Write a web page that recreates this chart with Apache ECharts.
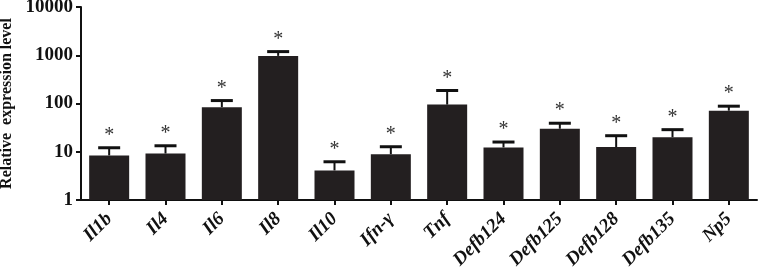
<!DOCTYPE html>
<html>
<head>
<meta charset="utf-8">
<script src="https://cdn.jsdelivr.net/npm/echarts@6/dist/echarts.min.js"></script>
<style>
  html, body { margin: 0; padding: 0; background: #fff; }
  #main { width: 761px; height: 272px; }
</style>
</head>
<body>
<div id="main"></div>
<script>
var genes = ['Il1b', 'Il4', 'Il6', 'Il8', 'Il10', 'Ifn-γ', 'Tnf', 'Defb124', 'Defb125', 'Defb128', 'Defb135', 'Np5'];
var means = [8.4, 9.2, 84, 970, 4.1, 8.9, 95, 12.3, 30, 12.5, 20, 71];
var upper = [12.1, 13.3, 115, 1190, 6.2, 12.7, 186, 15.9, 39, 21.5, 28.7, 88];
var yTicks = [1, 10, 100, 1000, 10000];

var chart = echarts.init(document.getElementById('main'));
var font = '"Liberation Serif", "DejaVu Serif", serif';

var errData = genes.map(function (g, i) { return [i, means[i], upper[i]]; });

var option = {
  animation: false,
  grid: { left: 81, right: 4, top: 7, bottom: 72, containLabel: false, outerBoundsMode: 'none' },
  xAxis: {
    type: 'category',
    data: genes,
    axisLine: { lineStyle: { color: '#111', width: 2 } },
    axisTick: { show: true, alignWithLabel: true, length: 5, lineStyle: { color: '#111', width: 2 } },
    axisLabel: {
      rotate: 45,
      margin: 16,
      color: '#111',
      fontFamily: font,
      fontStyle: 'italic',
      fontWeight: 'bold',
      fontSize: 19
    }
  },
  yAxis: {
    type: 'log',
    logBase: 10,
    min: yTicks[0],
    max: yTicks[yTicks.length - 1],
    name: 'Relative  expression level',
    nameLocation: 'middle',
    nameGap: 53,
    nameTextStyle: { fontFamily: font, fontWeight: 'bold', fontSize: 16, color: '#111' },
    splitLine: { show: false },
    axisLine: { show: true, lineStyle: { color: '#111', width: 2 } },
    axisTick: { show: true, length: 5, lineStyle: { color: '#111', width: 2 } },
    axisLabel: {
      margin: 8,
      color: '#111',
      fontFamily: font,
      fontWeight: 'bold',
      fontSize: 19,
      formatter: function (v) { return String(Math.round(v)); }
    }
  },
  series: [
    {
      type: 'bar',
      data: means,
      barWidth: 40,
      itemStyle: { color: '#231f20' }
    },
    {
      type: 'custom',
      data: errData,
      z: 5,
      renderItem: function (params, api) {
        var i = api.value(0);
        var top = api.coord([i, api.value(1)]);
        var hi = api.coord([i, api.value(2)]);
        var half = 11;
        return {
          type: 'group',
          children: [
            { type: 'line', shape: { x1: top[0], y1: top[1], x2: hi[0], y2: hi[1] },
              style: { stroke: '#111', lineWidth: 2 } },
            { type: 'line', shape: { x1: hi[0] - half, y1: hi[1], x2: hi[0] + half, y2: hi[1] },
              style: { stroke: '#111', lineWidth: 3 } },
            { type: 'text', x: hi[0], y: hi[1] - 2,
              style: { text: '*', fill: '#333', font: '20px ' + font, align: 'center', verticalAlign: 'bottom' } }
          ]
        };
      }
    }
  ]
};
chart.setOption(option);
</script>
</body>
</html>
